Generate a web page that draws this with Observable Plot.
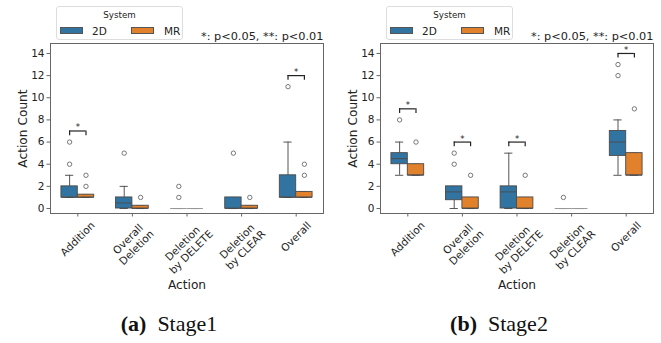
<!DOCTYPE html>
<html><head><meta charset="utf-8">
<script src="https://cdn.jsdelivr.net/npm/d3@7"></script>
<script src="https://cdn.jsdelivr.net/npm/@observablehq/plot@0.6"></script>
<style>
body{margin:0;background:#fff;font-family:"DejaVu Sans",sans-serif;}
#wrap{display:flex;width:661px;height:343px;}
.panel{position:relative;width:330px;height:343px;flex:none;}
.panel svg{position:absolute;left:0;top:0;}
.legend{position:absolute;left:56px;top:6px;width:127px;height:34px;border:1px solid #ddd;border-radius:3px;box-sizing:border-box;background:#fff;color:#222;}
.legend .title{position:absolute;left:0;right:0;top:3px;text-align:center;font-size:8.7px;line-height:10px;}
.legend .sw{position:absolute;top:20px;width:23px;height:7px;box-sizing:border-box;border:0.6px solid #555;}
.legend .lab{position:absolute;top:18px;font-size:10.5px;line-height:12px;}
.caption{position:absolute;left:4px;width:330px;top:311px;text-align:center;font-family:"Liberation Serif",serif;font-size:22px;line-height:25px;color:#111;}
g[aria-label$="axis label"] text{font-size:12.2px;}
</style>
</head><body>
<div id="wrap"></div>
<script>
const actions = ["Addition", "Overall\nDeletion", "Deletion\nby DELETE", "Deletion\nby CLEAR", "Overall"];
const systems = ["2D", "MR"];
const systemColors = ["#3274a1", "#e1812c"];
const yTicks = [0, 2, 4, 6, 8, 10, 12, 14];
const pNote = "*: p<0.05, **: p<0.01";

// each row: [lower whisker, Q1, median, Q3, upper whisker], one row per action
const stage1_2D = [[1, 1, 1, 2, 3], [0, 0, 0.5, 1, 2], [0, 0, 0, 0, 0], [0, 0, 0, 1, 1], [1, 1, 1, 3, 6]];
const stage1_MR = [[1, 1, 1, 1.25, 1.25], [0, 0, 0, 0.25, 0.25], [0, 0, 0, 0, 0], [0, 0, 0, 0.25, 0.25], [1, 1, 1, 1.5, 1.5]];
const stage1_out2D = [[4, 6], [5], [1, 2], [5], [11]];
const stage1_outMR = [[2, 3], [1], [], [1], [3, 4]];
const stage1_sigAction = [0, 4];
const stage1_sigLevel = [7, 12];
const stage1_sigLabel = ["*", "*"];

const stage2_2D = [[3, 4, 4.5, 5, 6], [0, 0.75, 1.5, 2, 2], [0, 0, 1.5, 2, 5], [0, 0, 0, 0, 0], [3, 4.75, 6, 7, 8]];
const stage2_MR = [[3, 3, 3, 4, 4], [0, 0, 0, 1, 1], [0, 0, 0, 1, 1], [0, 0, 0, 0, 0], [3, 3, 3, 5, 5]];
const stage2_out2D = [[8], [4, 5], [], [1], [12, 13]];
const stage2_outMR = [[6], [3], [3], [], [9]];
const stage2_sigAction = [0, 1, 2, 4];
const stage2_sigLevel = [9, 6, 6, 14];
const stage2_sigLabel = ["*", "*", "*", "*"];

function makePanel(st2D, stMR, out2D, outMR, sigA, sigL, sigT, tag, name) {
  const W = 0.3;
  const boxes = [];
  [st2D, stMR].forEach((S, s) => S.forEach((v, i) => {
    const x1 = s === 0 ? i - W : i, x2 = s === 0 ? i : i + W;
    boxes.push({i, system: systems[s], x1, x2, xc: (x1 + x2) / 2, lo: v[0], q1: v[1], med: v[2], q3: v[3], hi: v[4]});
  }));
  const outs = [];
  [out2D, outMR].forEach((O, s) => O.forEach((vals, i) => vals.forEach(v => outs.push({xc: s === 0 ? i - W / 2 : i + W / 2, v}))));
  const sig = sigA.map((a, k) => ({a, y: sigL[k], t: sigT[k]}));
  const legs = sig.flatMap(d => [{x: d.a - W / 2, y1: d.y - 0.42, y2: d.y}, {x: d.a + W / 2, y1: d.y - 0.42, y2: d.y}]);
  const edge = "#4a4a4a";
  const plot = Plot.plot({
    width: 330, height: 300,
    marginTop: 43, marginBottom: 87, marginLeft: 50, marginRight: 7,
    style: {fontFamily: "DejaVu Sans", fontSize: "10.5px", color: "#222", overflow: "visible", background: "transparent"},
    x: {domain: [-0.5, 4.5]},
    y: {domain: [-0.45, 14.9]},
    color: {domain: systems, range: systemColors},
    marks: [
      Plot.axisY({ticks: yTicks, tickSize: 3.5, tickPadding: 2.5, stroke: "#666", label: "Action Count", labelAnchor: "center", labelArrow: "none", labelOffset: 32}),
      Plot.axisX({ticks: [0, 1, 2, 3, 4], tickFormat: i => actions[i], tickRotate: -45, textAnchor: "middle", lineHeight: 1.15, tickSize: 3.5, stroke: "#666", label: "Action", labelAnchor: "center", labelArrow: "none", labelOffset: 75}),
      Plot.ruleX(boxes, {x: "xc", y1: "q3", y2: "hi", stroke: "#555", strokeWidth: 1}),
      Plot.ruleX(boxes, {x: "xc", y1: "lo", y2: "q1", stroke: "#555", strokeWidth: 1}),
      Plot.ruleY(boxes, {y: "hi", x1: d => d.xc - W / 4, x2: d => d.xc + W / 4, stroke: "#555", strokeWidth: 1}),
      Plot.ruleY(boxes, {y: "lo", x1: d => d.xc - W / 4, x2: d => d.xc + W / 4, stroke: "#555", strokeWidth: 1}),
      Plot.rect(boxes.filter(d => d.q3 > d.q1), {x1: "x1", x2: "x2", y1: "q1", y2: "q3", fill: "system", stroke: edge, strokeWidth: 0.9, inset: 0}),
      Plot.ruleY(boxes.filter(d => d.q3 === d.q1), {y: "q1", x1: "x1", x2: "x2", stroke: "#999", strokeWidth: 1}),
      Plot.ruleY(boxes.filter(d => d.q3 > d.q1), {y: "med", x1: "x1", x2: "x2", stroke: edge, strokeWidth: 0.9}),
      Plot.dot(outs, {x: "xc", y: "v", r: 2.2, stroke: "#444", strokeWidth: 0.7, fill: "none"}),
      Plot.ruleY(sig, {y: "y", x1: d => d.a - W / 2, x2: d => d.a + W / 2, stroke: "#222", strokeWidth: 1.2}),
      Plot.ruleX(legs, {x: "x", y1: "y1", y2: "y2", stroke: "#222", strokeWidth: 1.2}),
      Plot.text(sig, {x: "a", y: "y", text: "t", lineAnchor: "bottom", dy: -0.5, fontSize: 8.5, fill: "#222"}),
      Plot.text([pNote], {text: d => d, frameAnchor: "top-right", textAnchor: "end", lineAnchor: "bottom", dy: -4, fontSize: 11.3, fill: "#222"}),
      Plot.frame({stroke: "#666", strokeWidth: 1})
    ]
  });
  const div = document.createElement("div");
  div.className = "panel";
  div.appendChild(plot);
  const leg = document.createElement("div");
  leg.className = "legend";
  leg.innerHTML = `<div class="title">System</div>
    <div class="sw" style="left:3px;background:${systemColors[0]}"></div><div class="lab" style="left:35px">${systems[0]}</div>
    <div class="sw" style="left:74px;background:${systemColors[1]}"></div><div class="lab" style="left:107px">${systems[1]}</div>`;
  div.appendChild(leg);
  const cap = document.createElement("div");
  cap.className = "caption";
  cap.innerHTML = `<b>${tag}</b>&ensp;${name}`;
  div.appendChild(cap);
  document.getElementById("wrap").appendChild(div);
  // center rotated tick labels under their ticks (matplotlib-style alignment)
  const svg = div.querySelector("svg");
  const sr = svg.getBoundingClientRect();
  const xs = plot.scale("x");
  svg.querySelectorAll('g[aria-label="x-axis tick label"] text').forEach((t, k) => {
    const r = t.getBoundingClientRect();
    const cx = (r.left + r.right) / 2 - sr.left;
    const top = r.top - sr.top;
    const tx = xs.apply(k);
    t.setAttribute("transform", `translate(${(tx - cx).toFixed(2)},${(219 - top).toFixed(2)}) ` + (t.getAttribute("transform") || ""));
  });
}

makePanel(stage1_2D, stage1_MR, stage1_out2D, stage1_outMR, stage1_sigAction, stage1_sigLevel, stage1_sigLabel, "(a)", "Stage1");
makePanel(stage2_2D, stage2_MR, stage2_out2D, stage2_outMR, stage2_sigAction, stage2_sigLevel, stage2_sigLabel, "(b)", "Stage2");
</script>
</body></html>
